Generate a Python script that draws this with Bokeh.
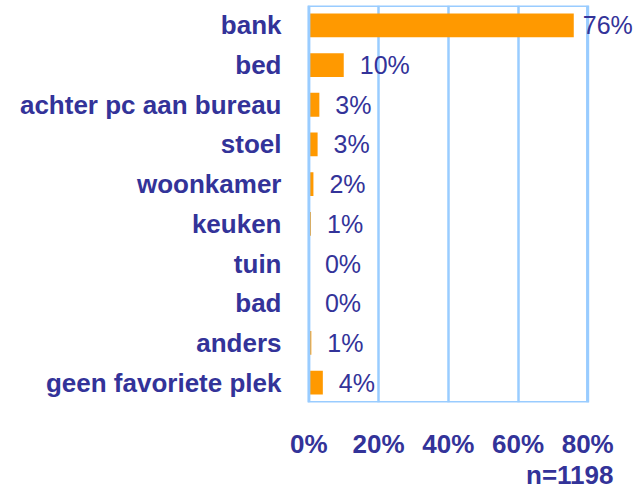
from bokeh.plotting import figure
from bokeh.models import (ColumnDataSource, Range1d, FactorRange, FixedTicker,
                          PrintfTickFormatter, LabelSet, Title, BoxAnnotation)
from bokeh.core.properties import value
from bokeh.embed import file_html
from bokeh.resources import INLINE

categories = ["bank", "bed", "achter pc aan bureau", "stoel", "woonkamer",
              "keuken", "tuin", "bad", "anders", "geen favoriete plek"]
values = [76.0, 10.0, 3.0, 2.5, 1.3, 0.6, 0.0, 0.0, 0.7, 4.0]
value_labels = ["76%", "10%", "3%", "3%", "2%", "1%", "0%", "0%", "1%", "4%"]
x_ticks = [0, 20, 40, 60, 80]
sample_note = "n=1198"

TEXT = "#333399"
GRIDC = "#99CCFF"
FONT = "Liberation Sans"

src = ColumnDataSource(dict(
    cat=categories, val=values, lab=value_labels,
    off=[9 if v > 70 else 16 for v in values],
))

p = figure(width=636, height=489, output_backend="svg", toolbar_location=None,
           x_range=Range1d(-0.4, 94), y_range=FactorRange(factors=categories[::-1]),
           min_border_left=307, min_border_right=0, min_border_top=5,
           min_border_bottom=0)
p.background_fill_color = "white"
p.border_fill_color = "white"
p.outline_line_color = None

p.hbar(y="cat", right="val", left=0, height=0.6, source=src,
       fill_color="#FF9900", line_color=None)

p.add_layout(BoxAnnotation(left=x_ticks[0], right=x_ticks[-1], fill_color=None,
                           fill_alpha=0, line_color=GRIDC, line_alpha=1.0,
                           line_dash="solid", line_width=3))

labels = LabelSet(x="val", y="cat", text="lab", source=src, x_offset="off",
                  text_baseline="middle", text_align="left",
                  text_font=value(FONT), text_font_size="25px", text_color=TEXT)
p.add_layout(labels)

p.ygrid.grid_line_color = None
p.xgrid.ticker = FixedTicker(ticks=x_ticks)
p.xgrid.grid_line_color = GRIDC
p.xgrid.grid_line_width = 2.5

p.xaxis.ticker = FixedTicker(ticks=x_ticks)
p.xaxis.formatter = PrintfTickFormatter(format="%d%%")
for ax in (p.xaxis[0], p.yaxis[0]):
    ax.axis_line_color = None
    ax.major_tick_line_color = None
    ax.minor_tick_line_color = None
    ax.major_tick_out = 0
    ax.minor_tick_out = 0
    ax.major_tick_in = 0
    ax.minor_tick_in = 0
    ax.axis_label_standoff = 0
    ax.major_label_text_font = FONT
    ax.major_label_text_font_size = "26px"
    ax.major_label_text_font_style = "bold"
    ax.major_label_text_color = TEXT
p.xaxis.major_label_standoff = 26
p.yaxis.major_label_standoff = 26

p.add_layout(Title(text=sample_note, align="right", vertical_align="top",
                   offset=23, standoff=-4,
                   text_font=FONT, text_font_size="26px", text_font_style="bold",
                   text_color=TEXT), "below")

open("out.html", "w").write(file_html(p, INLINE))
